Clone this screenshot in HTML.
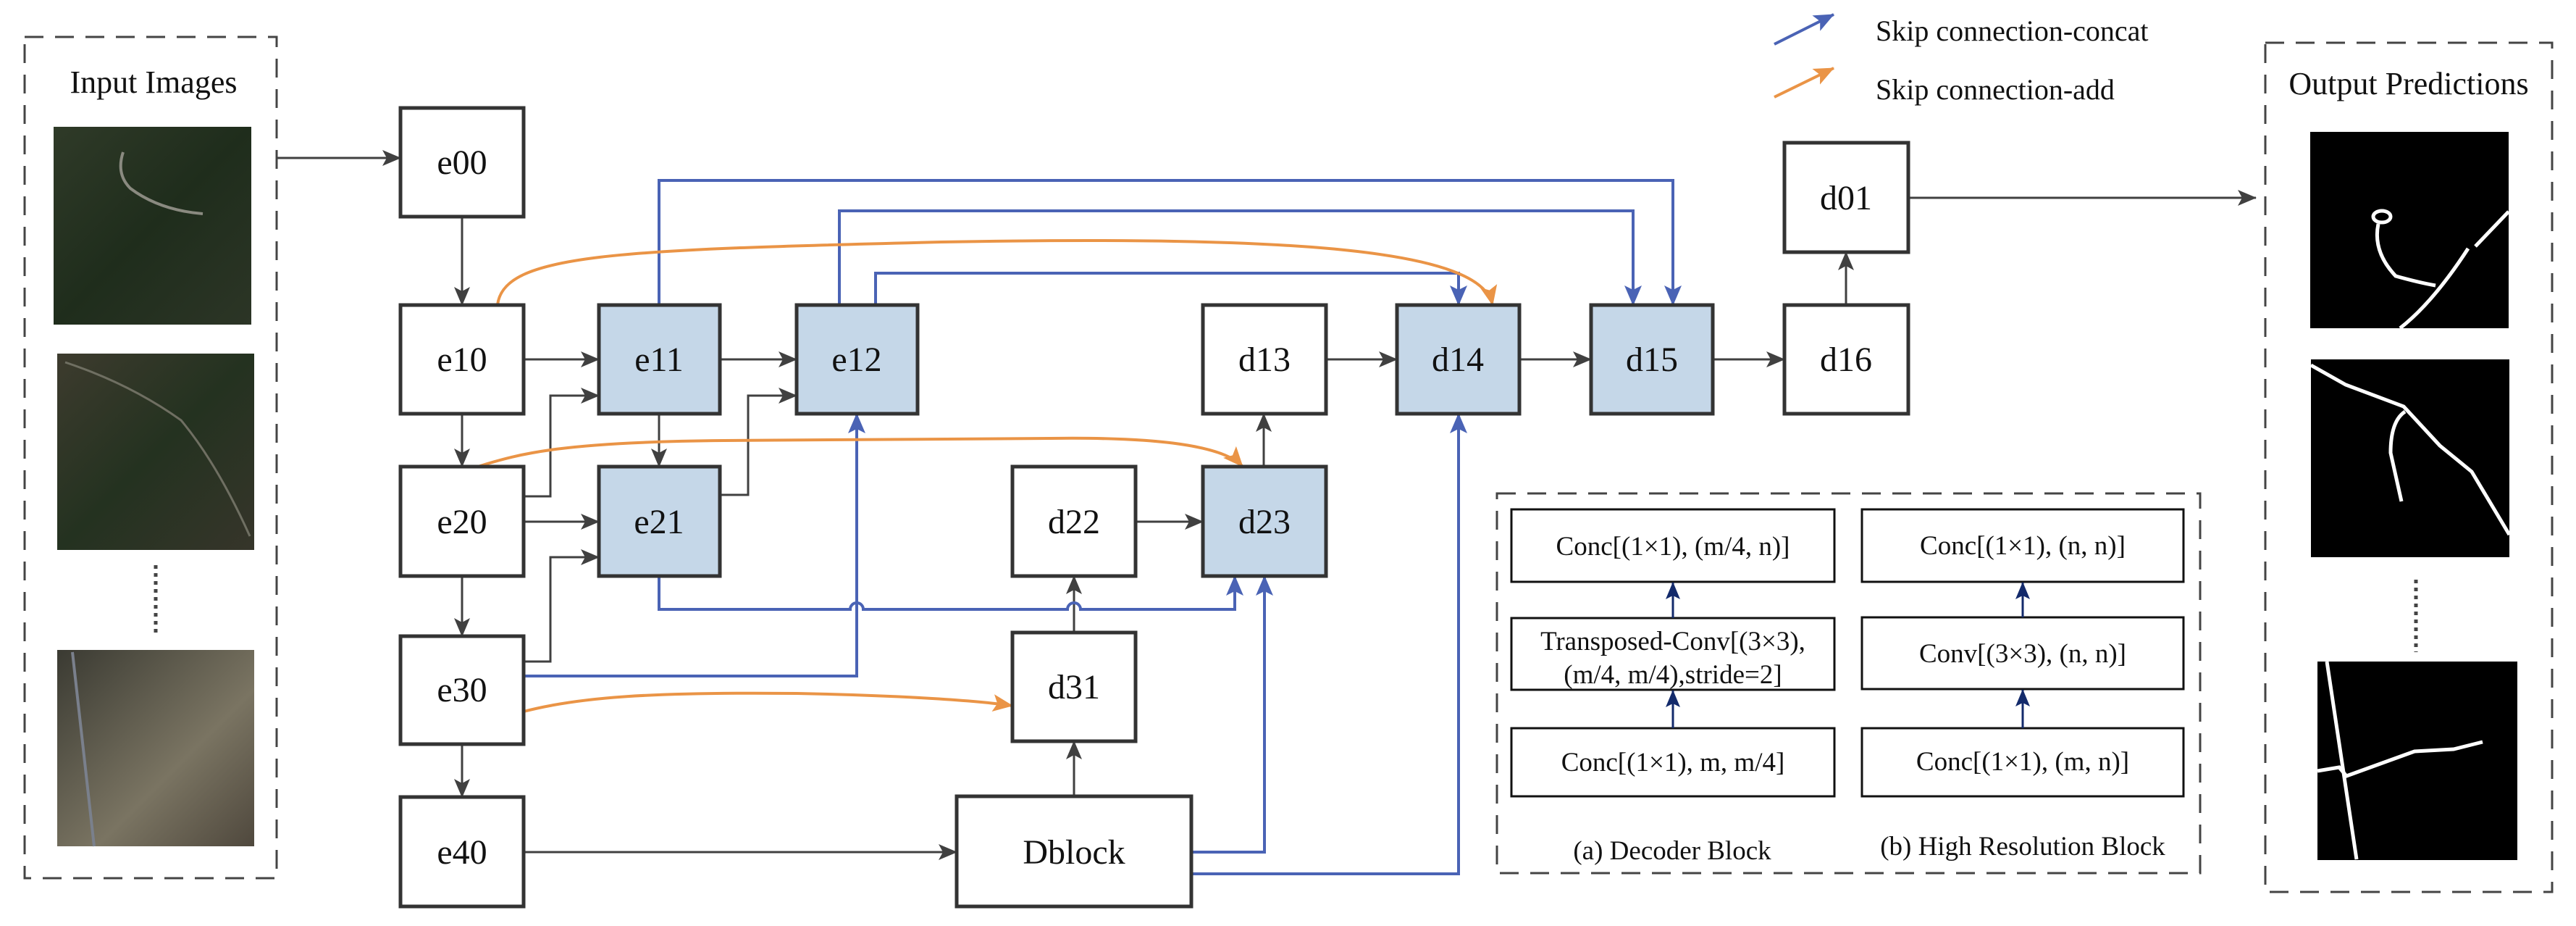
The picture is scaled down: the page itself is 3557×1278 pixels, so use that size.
<!DOCTYPE html>
<html><head><meta charset="utf-8"><style>
html,body{margin:0;padding:0;background:#fff;width:3557px;height:1278px;overflow:hidden}
svg{display:block}
svg text{font-family:"Liberation Serif","DejaVu Serif","Times New Roman",serif !important;fill:#111}
</style></head><body>
<svg width="3557" height="1278" viewBox="0 0 3557 1278" xmlns="http://www.w3.org/2000/svg" font-family="Liberation Serif, DejaVu Serif, serif">
<defs>
<marker id="agk" markerWidth="26" markerHeight="26" refX="25" refY="13" orient="auto" markerUnits="userSpaceOnUse"><path d="M0,2 L26,13 L0,24 L6,13 Z" fill="#404040"/></marker>
<marker id="ab" markerWidth="28" markerHeight="28" refX="27" refY="14" orient="auto" markerUnits="userSpaceOnUse"><path d="M0,2 L28,14 L0,26 L6,14 Z" fill="#4a63b5"/></marker>
<marker id="ao" markerWidth="28" markerHeight="28" refX="27" refY="14" orient="auto" markerUnits="userSpaceOnUse"><path d="M0,2 L28,14 L0,26 L6,14 Z" fill="#ea9446"/></marker>
<marker id="an" markerWidth="24" markerHeight="24" refX="23" refY="12" orient="auto" markerUnits="userSpaceOnUse"><path d="M0,2 L24,12 L0,22 L5,12 Z" fill="#132a6b"/></marker>
<linearGradient id="s1" x1="0" y1="0" x2="1" y2="1"><stop offset="0" stop-color="#2f3a28"/><stop offset=".5" stop-color="#1f2d1c"/><stop offset="1" stop-color="#2c3526"/></linearGradient>
<linearGradient id="s2" x1="0" y1="0" x2="1" y2="1"><stop offset="0" stop-color="#3d3b2e"/><stop offset=".5" stop-color="#243220"/><stop offset="1" stop-color="#36352a"/></linearGradient>
<linearGradient id="s3" x1="0" y1="0" x2="1" y2="1"><stop offset="0" stop-color="#3a3a32"/><stop offset=".6" stop-color="#7a7462"/><stop offset="1" stop-color="#4f483d"/></linearGradient>
</defs>

<rect x="34" y="51" width="348" height="1161" fill="none" stroke="#444" stroke-width="3" stroke-dasharray="26,16"/>
<text x="212" y="128" font-size="44" text-anchor="middle">Input Images</text>
<rect x="74" y="175" width="273" height="273" fill="url(#s1)"/>
<path d="M170 210 Q160 240 180 260 Q220 290 280 295" stroke="#8a8a80" stroke-width="4" fill="none"/>
<rect x="79" y="488" width="272" height="271" fill="url(#s2)"/>
<path d="M90 500 Q180 530 250 580 Q300 640 345 740" stroke="#6f6f62" stroke-width="3" fill="none"/>
<line x1="215" y1="780" x2="215" y2="878" stroke="#444" stroke-width="5" stroke-dasharray="5,6"/>
<rect x="79" y="897" width="272" height="271" fill="url(#s3)"/>
<path d="M100 900 L130 1168" stroke="#7a808c" stroke-width="4" fill="none"/>

<rect x="3128" y="59" width="396" height="1172" fill="none" stroke="#444" stroke-width="3" stroke-dasharray="26,16"/>
<text x="3326" y="130" font-size="44" text-anchor="middle">Output Predictions</text>
<g transform="translate(3190,182)"><rect width="274" height="271" fill="#000"/>
<g stroke="#fff" stroke-width="5" fill="none"><ellipse cx="99" cy="117" rx="12" ry="8"/><path d="M94 127 Q86 165 118 199 Q150 208 173 212"/><path d="M124 271 Q170 235 218 161"/><path d="M228 158 L274 110"/></g></g>
<g transform="translate(3191,496)"><rect width="274" height="273" fill="#000"/>
<g stroke="#fff" stroke-width="5" fill="none"><path d="M0 8 L48 35 L128 65 L178 119 L222 155 L274 242"/><path d="M130 72 Q110 85 110 129 L125 196"/></g></g>
<line x1="3336" y1="800" x2="3336" y2="900" stroke="#444" stroke-width="5" stroke-dasharray="5,6"/>
<g transform="translate(3200,913)"><rect width="276" height="274" fill="#000"/>
<g stroke="#fff" stroke-width="5" fill="none"><path d="M13 0 L54 273"/><path d="M0 151 L30 146 L40 158 L134 124 L188 121 L228 111"/></g></g>

<line x1="2450" y1="61" x2="2532" y2="20" stroke="#4a63b5" stroke-width="4" marker-end="url(#ab)"/>
<text x="2590" y="56" font-size="40">Skip connection-concat</text>
<line x1="2450" y1="134" x2="2532" y2="94" stroke="#ea9446" stroke-width="4" marker-end="url(#ao)"/>
<text x="2590" y="137" font-size="40">Skip connection-add</text>

<g stroke="#404040" stroke-width="3" fill="none">
<path d="M382 218 L553 218" marker-end="url(#agk)"/>
<path d="M638 299 L638 421" marker-end="url(#agk)"/>
<path d="M638 571 L638 644" marker-end="url(#agk)"/>
<path d="M638 795 L638 878" marker-end="url(#agk)"/>
<path d="M638 1027 L638 1100" marker-end="url(#agk)"/>
<path d="M723 496 L827 496" marker-end="url(#agk)"/>
<path d="M994 496 L1100 496" marker-end="url(#agk)"/>
<path d="M723 685 L760 685 L760 546 L827 546" marker-end="url(#agk)"/>
<path d="M994 683 L1033 683 L1033 546 L1100 546" marker-end="url(#agk)"/>
<path d="M723 913 L760 913 L760 769 L827 769" marker-end="url(#agk)"/>
<path d="M910 571 L910 644" marker-end="url(#agk)"/>
<path d="M723 720 L827 720" marker-end="url(#agk)"/>
<path d="M723 1176 L1321 1176" marker-end="url(#agk)"/>
<path d="M1483 1099 L1483 1023" marker-end="url(#agk)"/>
<path d="M1483 873 L1483 795" marker-end="url(#agk)"/>
<path d="M1568 720 L1661 720" marker-end="url(#agk)"/>
<path d="M1745 644 L1745 571" marker-end="url(#agk)"/>
<path d="M1831 496 L1929 496" marker-end="url(#agk)"/>
<path d="M2098 496 L2197 496" marker-end="url(#agk)"/>
<path d="M2365 496 L2464 496" marker-end="url(#agk)"/>
<path d="M2549 421 L2549 348" marker-end="url(#agk)"/>
<path d="M2635 273 L3115 273" marker-end="url(#agk)"/>
</g>

<g stroke="#4a63b5" stroke-width="4" fill="none">
<path d="M910 421 L910 249 L2310 249 L2310 421" marker-end="url(#ab)"/>
<path d="M1159 421 L1159 291 L2255 291 L2255 421" marker-end="url(#ab)"/>
<path d="M1209 421 L1209 377 L2014 377 L2014 421" marker-end="url(#ab)"/>
<path d="M910 795 L910 841 L1174 841 A9 9 0 0 1 1192 841 L1474 841 A9 9 0 0 1 1492 841 L1705 841 L1705 795" marker-end="url(#ab)"/>
<path d="M723 933 L1183 933 L1183 571" marker-end="url(#ab)"/>
<path d="M1645 1176 L1746 1176 L1746 795" marker-end="url(#ab)"/>
<path d="M1645 1206 L2014 1206 L2014 571" marker-end="url(#ab)"/>
</g>

<g stroke="#ea9446" stroke-width="4" fill="none">
<path d="M687 421 C695 350 850 345 1300 334 C1800 325 2045 345 2061 421" marker-end="url(#ao)"/>
<path d="M660 644 C720 625 780 610 1000 608 L1450 605 C1600 603 1690 615 1716 644" marker-end="url(#ao)"/>
<path d="M723 982 C800 962 900 955 1100 957 C1250 960 1350 967 1398 974" marker-end="url(#ao)"/>
</g>

<g stroke="#333" stroke-width="5">
<rect x="553" y="149" width="170" height="150" fill="#fff"/>
<rect x="553" y="421" width="170" height="150" fill="#fff"/>
<rect x="553" y="644" width="170" height="151" fill="#fff"/>
<rect x="553" y="878" width="170" height="149" fill="#fff"/>
<rect x="553" y="1100" width="170" height="151" fill="#fff"/>
<rect x="827" y="421" width="167" height="150" fill="#c5d7e8"/>
<rect x="1100" y="421" width="167" height="150" fill="#c5d7e8"/>
<rect x="827" y="644" width="167" height="151" fill="#c5d7e8"/>
<rect x="1398" y="644" width="170" height="151" fill="#fff"/>
<rect x="1661" y="644" width="170" height="151" fill="#c5d7e8"/>
<rect x="1661" y="421" width="170" height="150" fill="#fff"/>
<rect x="1398" y="873" width="170" height="150" fill="#fff"/>
<rect x="1321" y="1099" width="324" height="152" fill="#fff"/>
<rect x="1929" y="421" width="169" height="150" fill="#c5d7e8"/>
<rect x="2197" y="421" width="168" height="150" fill="#c5d7e8"/>
<rect x="2464" y="421" width="171" height="150" fill="#fff"/>
<rect x="2464" y="197" width="171" height="151" fill="#fff"/>
</g>
<g font-size="48" text-anchor="middle">
<text x="638" y="240">e00</text>
<text x="638" y="512">e10</text>
<text x="638" y="736">e20</text>
<text x="638" y="968">e30</text>
<text x="638" y="1192">e40</text>
<text x="910" y="512">e11</text>
<text x="1183" y="512">e12</text>
<text x="910" y="736">e21</text>
<text x="1483" y="736">d22</text>
<text x="1746" y="736">d23</text>
<text x="1746" y="512">d13</text>
<text x="1483" y="964">d31</text>
<text x="1483" y="1192">Dblock</text>
<text x="2013" y="512">d14</text>
<text x="2281" y="512">d15</text>
<text x="2549" y="512">d16</text>
<text x="2549" y="289">d01</text>
</g>

<rect x="2067" y="681" width="971" height="524" fill="none" stroke="#444" stroke-width="3" stroke-dasharray="26,16"/>
<g stroke="#111" stroke-width="3" fill="#fff">
<rect x="2087" y="703" width="446" height="100"/>
<rect x="2087" y="853" width="446" height="99"/>
<rect x="2087" y="1005" width="446" height="94"/>
<rect x="2571" y="703" width="444" height="100"/>
<rect x="2571" y="852" width="444" height="99"/>
<rect x="2571" y="1005" width="444" height="94"/>
</g>
<g stroke="#132a6b" stroke-width="3">
<line x1="2310" y1="853" x2="2310" y2="804" marker-end="url(#an)"/>
<line x1="2310" y1="1005" x2="2310" y2="953" marker-end="url(#an)"/>
<line x1="2793" y1="852" x2="2793" y2="804" marker-end="url(#an)"/>
<line x1="2793" y1="1005" x2="2793" y2="952" marker-end="url(#an)"/>
</g>
<g font-size="37" text-anchor="middle">
<text x="2310" y="766">Conc[(1×1), (m/4, n)]</text>
<text x="2310" y="897">Transposed-Conv[(3×3),</text>
<text x="2310" y="943">(m/4, m/4),stride=2]</text>
<text x="2310" y="1064">Conc[(1×1), m, m/4]</text>
<text x="2793" y="765">Conc[(1×1), (n, n)]</text>
<text x="2793" y="914">Conv[(3×3), (n, n)]</text>
<text x="2793" y="1063">Conc[(1×1), (m, n)]</text>
<text x="2309" y="1186">(a) Decoder Block</text>
<text x="2793" y="1180">(b) High Resolution Block</text>
</g>
</svg>
</body></html>
